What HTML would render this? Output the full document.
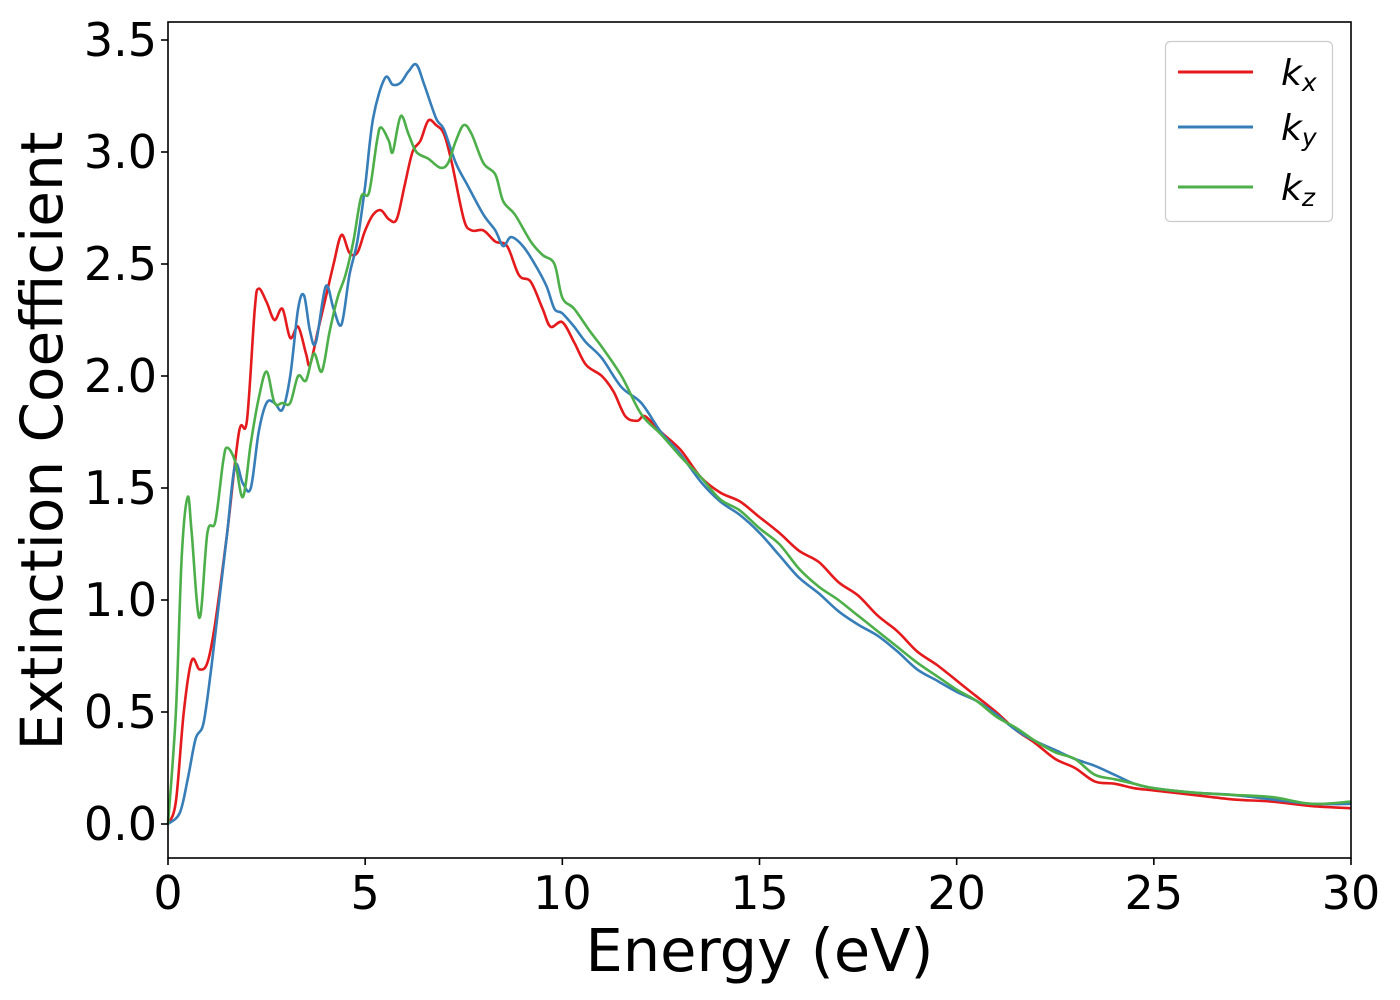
<!DOCTYPE html>
<html><head><meta charset="utf-8"><style>
html,body{margin:0;padding:0;background:#fff;}
svg{display:block;font-family:"DejaVu Sans","Liberation Sans",sans-serif;}
</style></head><body>
<svg id="chart" width="1400" height="1000" viewBox="0 0 1400 1000">
<rect x="0" y="0" width="1400" height="1000" fill="#fff"/>
<g id="plot"></g>
<g id="axes"></g>
<g id="legend">
  <rect x="1165.5" y="41.5" width="167" height="180" rx="5" fill="#fff" stroke="#ccc" stroke-width="1.2"/>
  <g>
    <line x1="1178" y1="72" x2="1253" y2="72" stroke="#e41a1c" stroke-width="3"/>
    <text x="1281" y="85" font-size="36" font-style="italic">k<tspan font-size="25" dy="6">x</tspan></text>
  </g>
  <g>
    <line x1="1178" y1="127" x2="1253" y2="127" stroke="#377eb8" stroke-width="3"/>
    <text x="1281" y="140" font-size="36" font-style="italic">k<tspan font-size="25" dy="6">y</tspan></text>
  </g>
  <g>
    <line x1="1178" y1="187" x2="1253" y2="187" stroke="#4daf4a" stroke-width="3"/>
    <text x="1281" y="200" font-size="36" font-style="italic">k<tspan font-size="25" dy="6">z</tspan></text>
  </g>
</g>
</svg>
<script>
const energyKx=[0,0.2,0.4,0.6,0.8,1.0,1.2,1.5,1.8,2.0,2.2,2.3,2.5,2.7,2.9,3.1,3.3,3.5,3.6,3.8,4.0,4.2,4.4,4.6,4.8,5.0,5.2,5.4,5.6,5.8,6.0,6.2,6.4,6.6,6.8,7.0,7.2,7.5,7.7,8.0,8.3,8.6,8.9,9.2,9.5,9.7,10.0,10.3,10.6,11.0,11.3,11.6,11.9,12.1,12.5,13,13.5,14,14.5,15,15.5,16,16.5,17,17.5,18,18.5,19,19.5,20,20.5,21,21.5,22,22.5,23,23.5,24,24.5,25,26,27,28,29,30];
const valuesKx=[0,0.1,0.5,0.73,0.69,0.72,0.9,1.3,1.75,1.8,2.3,2.39,2.33,2.25,2.3,2.17,2.22,2.1,2.05,2.2,2.35,2.5,2.63,2.55,2.55,2.65,2.72,2.74,2.7,2.7,2.85,3.0,3.05,3.14,3.12,3.08,2.95,2.7,2.65,2.65,2.6,2.58,2.45,2.42,2.3,2.22,2.24,2.15,2.05,2.0,1.93,1.82,1.8,1.82,1.75,1.67,1.55,1.48,1.44,1.37,1.3,1.22,1.17,1.08,1.02,0.93,0.86,0.77,0.71,0.64,0.57,0.5,0.42,0.36,0.29,0.25,0.19,0.18,0.16,0.15,0.13,0.11,0.1,0.08,0.07];
const energyKy=[0,0.3,0.5,0.7,0.9,1.1,1.3,1.5,1.7,1.9,2.1,2.3,2.5,2.7,2.9,3.1,3.3,3.45,3.6,3.75,4.0,4.2,4.4,4.6,4.8,5.0,5.2,5.5,5.7,5.9,6.1,6.3,6.5,6.8,7.0,7.3,7.6,8.0,8.3,8.5,8.7,9.0,9.3,9.6,9.8,10.0,10.3,10.6,11,11.5,12,12.5,13,13.5,14,14.5,15,15.5,16,16.5,17,17.5,18,18.5,19,19.5,20,20.5,21,21.5,22,22.5,23,23.5,24,24.5,25,26,27,28,29,30];
const valuesKy=[0,0.05,0.2,0.38,0.45,0.7,1.0,1.3,1.6,1.52,1.5,1.75,1.88,1.88,1.85,2.0,2.3,2.36,2.2,2.15,2.4,2.3,2.23,2.45,2.6,2.85,3.15,3.33,3.3,3.31,3.36,3.39,3.3,3.15,3.1,2.95,2.85,2.72,2.65,2.58,2.62,2.58,2.5,2.4,2.3,2.28,2.22,2.15,2.08,1.95,1.88,1.75,1.65,1.53,1.44,1.38,1.3,1.2,1.1,1.03,0.95,0.89,0.84,0.77,0.69,0.64,0.59,0.55,0.49,0.42,0.37,0.33,0.29,0.26,0.22,0.18,0.16,0.14,0.13,0.11,0.09,0.09];
const energyKz=[0,0.2,0.35,0.5,0.6,0.8,1.0,1.2,1.4,1.5,1.7,1.9,2.1,2.3,2.5,2.7,2.9,3.1,3.3,3.5,3.7,3.9,4.1,4.3,4.5,4.7,4.9,5.1,5.3,5.4,5.6,5.7,5.9,6.1,6.3,6.6,6.9,7.1,7.3,7.5,7.7,8.0,8.3,8.5,8.8,9.2,9.5,9.8,10,10.3,10.7,11,11.5,12,12.5,13,13.5,14,14.5,15,15.5,16,16.5,17,17.5,18,18.5,19,19.5,20,20.5,21,21.5,22,22.5,23,23.5,24,24.5,25,26,27,28,29,30];
const valuesKz=[0,0.5,1.2,1.46,1.3,0.92,1.3,1.35,1.62,1.68,1.62,1.46,1.7,1.9,2.02,1.88,1.88,1.88,2.0,1.98,2.1,2.02,2.2,2.35,2.45,2.6,2.8,2.82,3.05,3.11,3.05,3.0,3.16,3.08,3.0,2.97,2.93,2.95,3.05,3.12,3.08,2.95,2.9,2.78,2.72,2.6,2.54,2.5,2.35,2.3,2.2,2.13,2.0,1.83,1.74,1.64,1.55,1.45,1.4,1.32,1.25,1.14,1.06,1.0,0.93,0.86,0.79,0.72,0.66,0.6,0.55,0.48,0.43,0.37,0.32,0.29,0.22,0.2,0.18,0.16,0.14,0.13,0.12,0.09,0.1];
const xTicks=[0,5,10,15,20,25,30];
const yTicks=[0.0,0.5,1.0,1.5,2.0,2.5,3.0,3.5];

const L=168,R=1351,T=22,B=858;
const X=v=>L+(v-0)/30*(R-L);
const Y=v=>824-v*224;
const NS="http://www.w3.org/2000/svg";
function mk(tag,attrs,parent){const e=document.createElementNS(NS,tag);for(const k in attrs)e.setAttribute(k,attrs[k]);parent.appendChild(e);return e;}
function smoothPath(P){
  let d='M'+P[0][0].toFixed(1)+','+P[0][1].toFixed(1);
  for(let i=0;i<P.length-1;i++){
    const p0=P[Math.max(0,i-1)],p1=P[i],p2=P[i+1],p3=P[Math.min(P.length-1,i+2)];
    const c1=[p1[0]+(p2[0]-p0[0])/6,p1[1]+(p2[1]-p0[1])/6];
    const c2=[p2[0]-(p3[0]-p1[0])/6,p2[1]-(p3[1]-p1[1])/6];
    d+=' C'+c1[0].toFixed(1)+','+c1[1].toFixed(1)+' '+c2[0].toFixed(1)+','+c2[1].toFixed(1)+' '+p2[0].toFixed(1)+','+p2[1].toFixed(1);
  }
  return d;
}
const plot=document.getElementById('plot'),axes=document.getElementById('axes');
const series=[[energyKx,valuesKx,'#e41a1c','series-kx'],[energyKy,valuesKy,'#377eb8','series-ky'],[energyKz,valuesKz,'#4daf4a','series-kz']];
for(const [xs,ys,c,n] of series){
  const P=xs.map((x,i)=>[X(x),Y(ys[i])]);
  const p=mk('path',{d:smoothPath(P),fill:'none',stroke:c,'stroke-width':2.6,'stroke-linejoin':'round'},plot);
  
  
}
const frame=mk('rect',{x:L,y:T,width:R-L,height:B-T,fill:'none',stroke:'#000','stroke-width':1.6},axes);


for(const t of xTicks){
  mk('line',{x1:X(t),y1:B,x2:X(t),y2:B+7,stroke:'#000','stroke-width':1.6},axes);
  const tx=mk('text',{x:X(t),y:B+51,'font-size':46,'text-anchor':'middle'},axes);
  tx.textContent=String(t);
  
  
}
for(const t of yTicks){
  mk('line',{x1:L-7,y1:Y(t),x2:L,y2:Y(t),stroke:'#000','stroke-width':1.6},axes);
  const ty=mk('text',{x:L-11,y:Y(t)+16,'font-size':46,'text-anchor':'end'},axes);
  ty.textContent=t.toFixed(1);
  
  
}
const xt=mk('text',{x:(L+R)/2,y:971,'font-size':59,'text-anchor':'middle'},axes);
xt.textContent='Energy (eV)';


const yt=mk('text',{x:0,y:0,'font-size':58,'text-anchor':'middle',transform:'translate(62,441) rotate(-90)'},axes);
yt.textContent='Extinction Coefficient';


</script>
</body></html>
